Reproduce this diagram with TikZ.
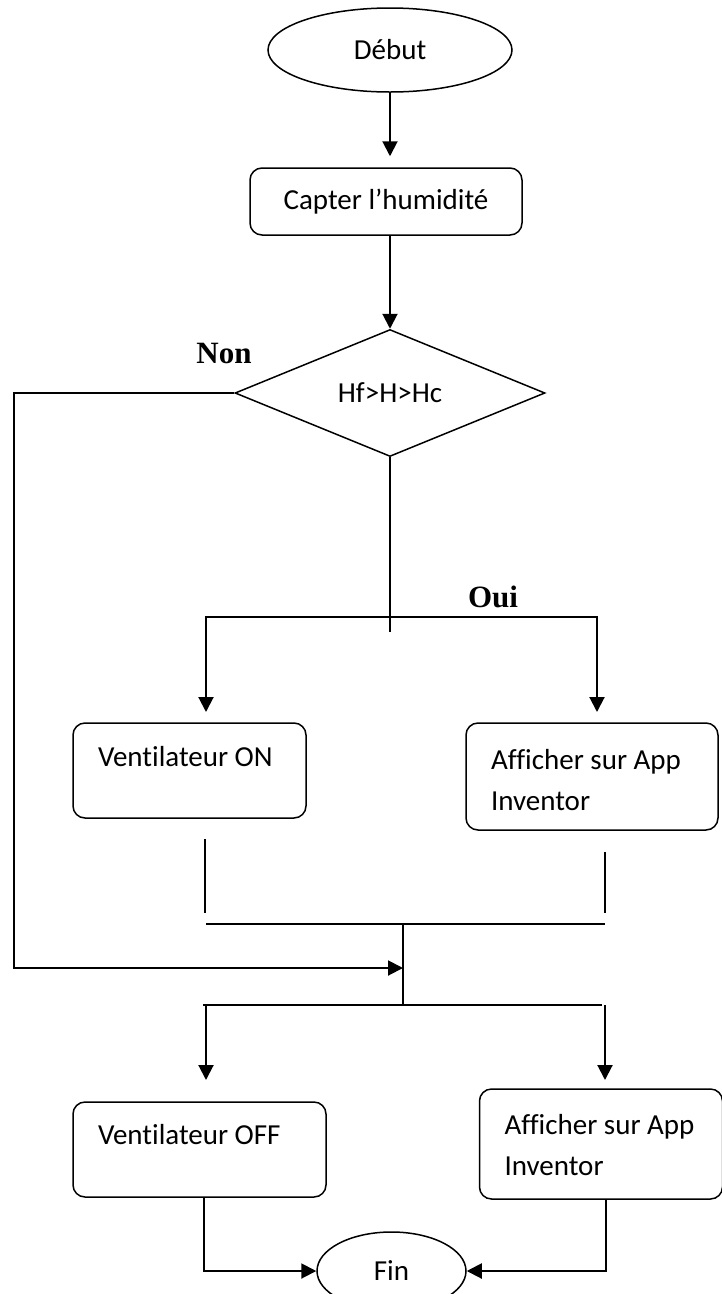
\documentclass[tikz,border=0pt]{standalone}
\usepackage{fontspec}
\usetikzlibrary{shapes.geometric,arrows.meta}
\newfontfamily\carlito[Ligatures={NoCommon}]{Carlito}
\newfontfamily\timesfont{Liberation Serif}

\begin{document}
\begin{tikzpicture}[x=1pt,y=-1pt,
  base/.style={font=\carlito\fontsize{29}{41}\selectfont},
  term/.style={base, draw, ellipse, line width=1.5pt, inner sep=0pt},
  stepbox/.style={base, draw, rounded corners=12pt, line width=1.5pt,
                  inner xsep=25pt, inner ysep=0pt, align=flush left},
  decision/.style={base, draw, diamond, line width=1.5pt, inner sep=0pt},
  link/.style={line width=2pt},
  flow/.style={link, -{Triangle[length=15pt,width=15pt]}},
  answer/.style={font=\timesfont\bfseries\fontsize{31}{36}\selectfont}
]
\path[use as bounding box, clip] (0,0) rectangle (722,1294);
\fill[white] (0,0) rectangle (722,1294);

% start, sensing and test
\node[term, minimum width=244pt, minimum height=84pt] (debut) at (390,50) {Début};
\node[stepbox, align=center, minimum width=272pt, minimum height=67pt] (capter) at (386,201.5) {Capter l’humidité};
\node[decision, minimum width=310pt, minimum height=127pt] (cond) at (390,393) {Hf>H>Hc};

% branch labels
\node[answer] (non) at (224,353) {Non};
\node[answer] (oui) at (493,597) {Oui};

% actions
\node[stepbox, text width=183pt, text height=43pt, text depth=52pt] (von) at (189.5,770.5) {Ventilateur ON};
\node[stepbox, text width=202pt, text height=46pt, text depth=61pt] (aff1) at (592,776.5) {Afficher sur App\\Inventor};
\node[stepbox, text width=203pt, text height=42pt, text depth=53pt] (voff) at (199.5,1149.5) {Ventilateur OFF};
\node[stepbox, text width=193pt, text height=45pt, text depth=65pt] (aff2) at (601,1144) {Afficher sur App\\Inventor};
\node[term, minimum width=149pt, minimum height=78pt] (fin) at (391.5,1271) {Fin};

% junction points of the connectors
\coordinate (nonturn) at (14,968);
\coordinate (mergein) at (403,968);
\coordinate (ysplit) at (389,617);
\coordinate (ystem) at (389,632);
\coordinate (vonin) at (206,712);
\coordinate (aff1in) at (597,712);
\coordinate (vonout) at (205,839);
\coordinate (vonend) at (205,913);
\coordinate (aff1out) at (605,852);
\coordinate (aff1end) at (605,913);
\coordinate (joinL) at (206,924);
\coordinate (joinR) at (605,924);
\coordinate (joinM) at (403,924);
\coordinate (forkM) at (403,1005);
\coordinate (forkL) at (203,1005);
\coordinate (forkR) at (602,1005);
\coordinate (offtop) at (206,1005);
\coordinate (offin) at (206,1080);
\coordinate (aff2top) at (605,1005);
\coordinate (aff2in) at (605,1080);
\coordinate (offout) at (204,1197);
\coordinate (aff2out) at (606,1199);

% connectors
\draw[flow, shorten >=11pt] (debut.south) -- (debut.south |- capter.north);
\draw[flow] (cond.north |- capter.south) -- (cond.north);
\draw[flow] (cond.west) -| (nonturn) -- (mergein);
\draw[link] (cond.south) -- (cond.south |- ystem);
\draw[flow] (ysplit) -| (vonin);
\draw[flow] (ysplit) -| (aff1in);
\draw[link] (vonout) -- (vonend);
\draw[link] (aff1out) -- (aff1end);
\draw[link] (joinL) -- (joinR);
\draw[link] (joinM) -- (forkM);
\draw[link] (forkL) -- (forkR);
\draw[flow] (offtop) -- (offin);
\draw[flow] (aff2top) -- (aff2in);
\draw[flow] (offout) |- (fin.west);
\draw[flow] (aff2out) |- (fin.east);
\end{tikzpicture}
\end{document}
